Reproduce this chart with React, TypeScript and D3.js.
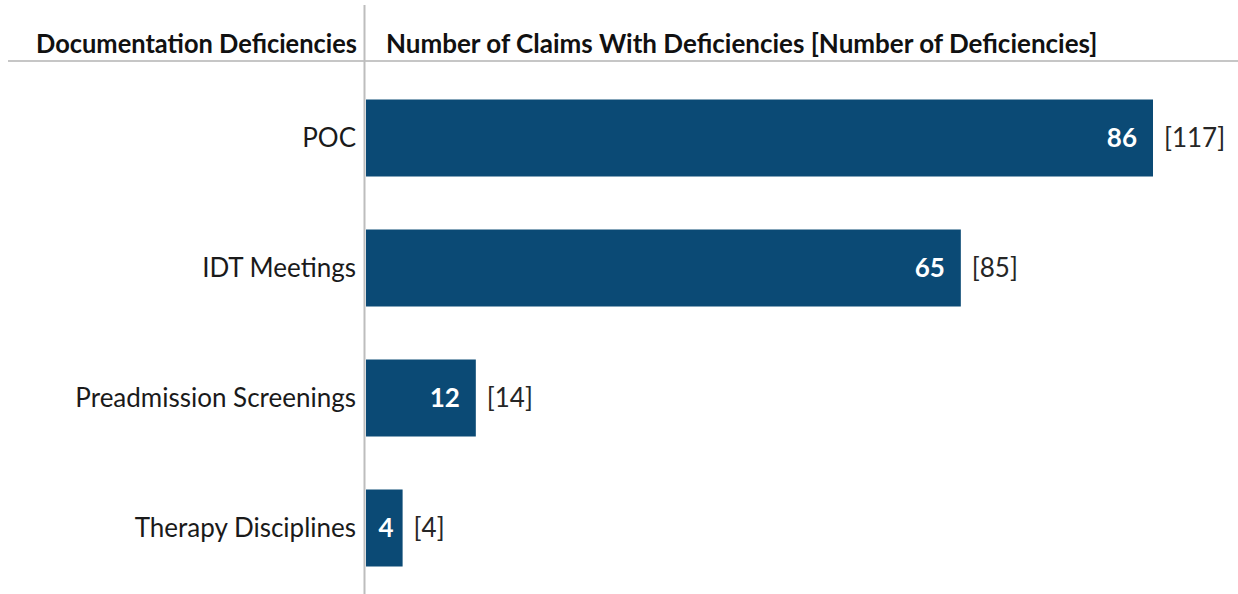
import React from "react";
import * as d3 from "d3";

const categories = ["POC", "IDT Meetings", "Preadmission Screenings", "Therapy Disciplines"];
const claims = [86, 65, 12, 4];
const deficiencies = [117, 85, 14, 4];
const headerLeft = "Documentation Deficiencies";
const headerRight = "Number of Claims With Deficiencies [Number of Deficiencies]";

const W = 1238;
const H = 594;
const FONT = "Lato, 'Open Sans', sans-serif";
const BAR = "#0b4a75";
const FS = 26;

export default function App() {
  const x = d3.scaleLinear().domain([0, 86]).range([366, 1153]);
  const y = d3
    .scaleBand<string>()
    .domain(categories)
    .range([73, 593])
    .paddingInner(53 / 130)
    .paddingOuter(53 / 260);

  return (
    <svg
      width={W}
      height={H}
      style={{ position: "absolute", left: 0, top: 0, background: "#fff" }}
      fontFamily={FONT}
    >
      <rect x={0} y={0} width={W} height={H} fill="#fff" />
      <line x1={8} x2={W} y1={61} y2={61} stroke="#c6c6c6" strokeWidth={2} />
      <line x1={364.5} x2={364.5} y1={5} y2={H} stroke="#bdbdbd" strokeWidth={2} />
      <text
        x={36}
        y={53}
        fontSize={FS}
        fontWeight={700}
        fill="#111"
        textLength={321}
        lengthAdjust="spacingAndGlyphs"
      >
        {headerLeft}
      </text>
      <text x={386} y={53} fontSize={FS} fontWeight={700} fill="#111">
        {headerRight}
      </text>
      {categories.map((c, i) => {
        const y0 = y(c)!;
        const bw = y.bandwidth();
        const cy = y0 + bw / 2;
        return (
          <g key={c}>
            <rect x={x(0)} y={y0} width={x(claims[i]) - x(0)} height={bw} fill={BAR} />
            <text x={356} y={cy} dy="0.36em" textAnchor="end" fontSize={FS} fill="#1a1a1a">
              {c}
            </text>
            <text
              x={x(claims[i]) - (claims[i] < 10 ? 9 : 16)}
              y={cy}
              dy="0.36em"
              textAnchor="end"
              fontSize={FS}
              fontWeight={700}
              fill="#fff"
            >
              {claims[i]}
            </text>
            <text x={x(claims[i]) + 11} y={cy} dy="0.36em" fontSize={FS} fill="#262626">
              {`[${deficiencies[i]}]`}
            </text>
          </g>
        );
      })}
    </svg>
  );
}
